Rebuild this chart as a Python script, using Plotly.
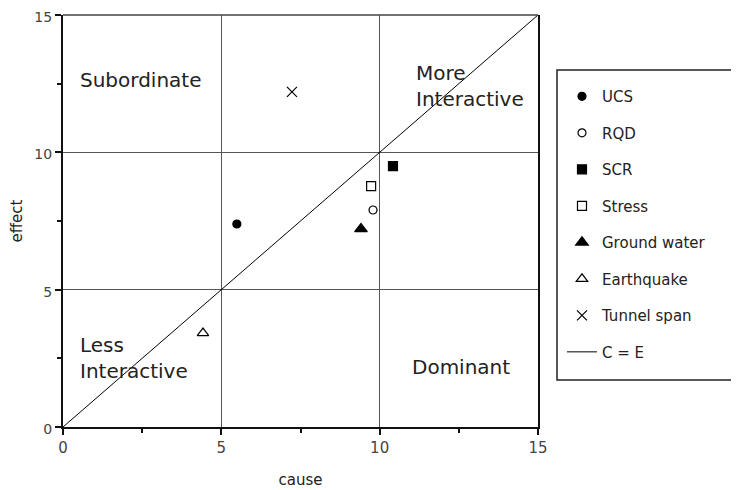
import plotly.graph_objects as go

names = ["UCS", "RQD", "SCR", "Stress", "Ground water", "Earthquake", "Tunnel span"]
cause = [5.49, 9.79, 10.42, 9.73, 9.41, 4.42, 7.23]
effect = [7.39, 7.90, 9.50, 8.77, 7.21, 3.42, 12.20]
symbols = ["circle", "circle-open", "square", "square-open", "triangle-up", "triangle-up-open", "x-thin-open"]
sizes = [8, 8, 9, 9, 11, 10, 10]

line_x = [0, 15]
line_y = [0, 15]

FONT = "DejaVu Sans"

fig = go.Figure()
for i, n in enumerate(names):
    fig.add_trace(go.Scatter(
        x=[cause[i]], y=[effect[i]], mode="markers", name=n,
        legendgroup=n,
        marker=dict(symbol=symbols[i], size=sizes[i], color="black",
                    line=dict(color="black", width=1.2)),
    ))
fig.add_trace(go.Scatter(x=line_x, y=line_y, mode="lines", name="C = E",
                         legendgroup="ce", line=dict(color="black", width=1)))

ann = [
    (0.47, 12.63, "Subordinate"),
    (11.08, 12.41, "More<br>Interactive"),
    (0.47, 2.51, "Less<br>Interactive"),
    (10.96, 2.18, "Dominant"),
]
for x, y, t in ann:
    fig.add_annotation(x=x, y=y, text=t, xanchor="left", yanchor="middle",
                       align="left", showarrow=False,
                       font=dict(family=FONT, size=20, color="#222"))

axis_common = dict(
    range=[0, 15], dtick=5, tick0=0, automargin=False,
    showgrid=True, gridcolor="#555", gridwidth=1,
    showline=True, linecolor="#111", linewidth=2,
    ticks="outside", ticklen=6, tickwidth=2, tickcolor="#111",
    minor=dict(dtick=2.5, ticks="outside", ticklen=4, tickwidth=2, tickcolor="#111", showgrid=False),
    zeroline=False, ticklabeloverflow="allow",
)

fig.update_xaxes(**axis_common, mirror=False,
                 tickfont=dict(family=FONT, size=15, color="#444"),
                 title=dict(text="cause", font=dict(family=FONT, size=15, color="#222"), standoff=18))
fig.update_yaxes(**axis_common, mirror=True, ticklabelshift=2,
                 tickfont=dict(family=FONT, size=14, color="#444"),
                 title=dict(text="effect", font=dict(family=FONT, size=15, color="#222"), standoff=12))

# top frame line of the plot area
fig.add_shape(type="line", xref="x domain", yref="y domain", x0=0, x1=1, y0=1, y1=1,
              line=dict(color="#444", width=1.5))
# legend frame
fig.add_shape(type="rect", xref="paper", yref="paper", x0=1.04, x1=1.45, y0=0.114, y1=0.8665,
              line=dict(color="#222", width=1.5), fillcolor="rgba(0,0,0,0)")

fig.update_layout(
    width=731, height=482,
    margin=dict(l=55, r=201, t=7, b=63),
    plot_bgcolor="white", paper_bgcolor="white",
    font=dict(family=FONT, color="#222"),
    legend=dict(
        x=1.0505, y=0.842, xanchor="left", yanchor="top",
        borderwidth=0, bgcolor="rgba(0,0,0,0)",
        font=dict(family=FONT, size=15, color="#222"),
        tracegroupgap=14,
        traceorder="grouped",
    ),
    showlegend=True,
)

fig.write_html("out.html")
